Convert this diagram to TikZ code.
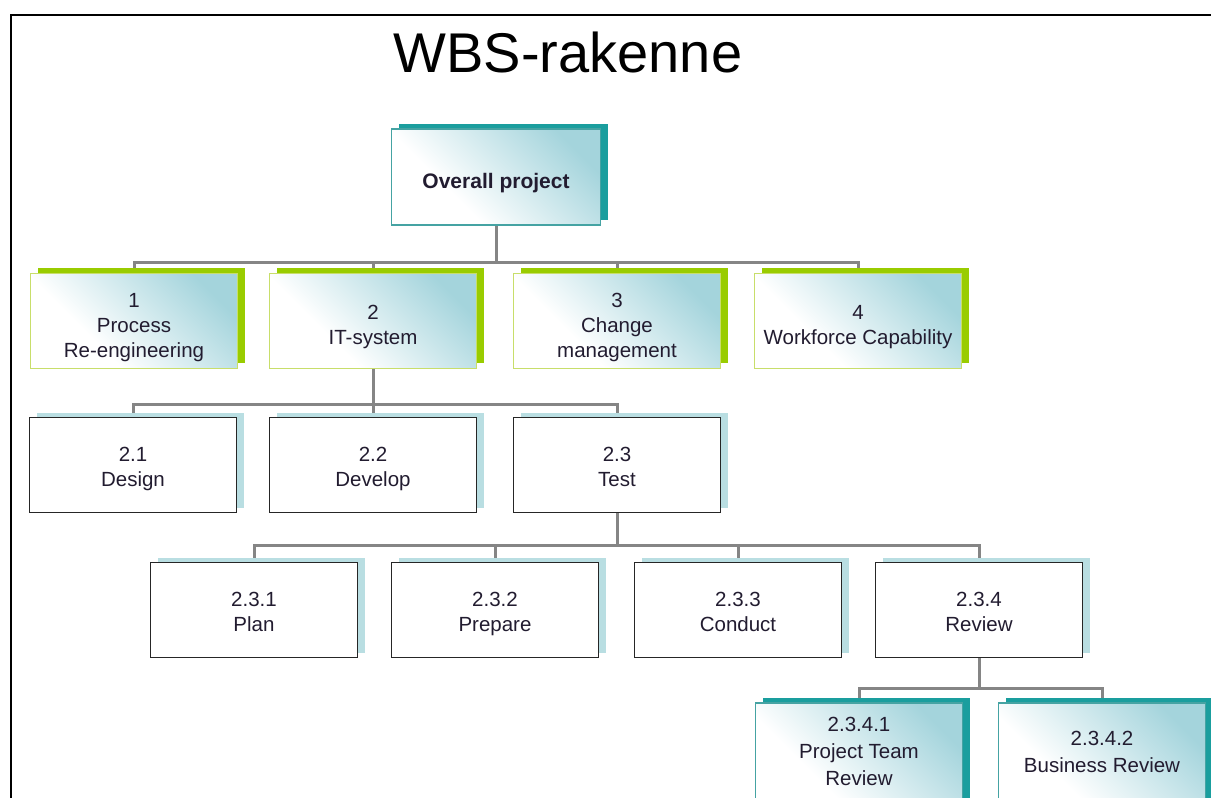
\documentclass[tikz,border=0pt]{standalone}
\usepackage{fontspec}
\setmainfont{Liberation Sans}
\usetikzlibrary{shadows,backgrounds}
\definecolor{gblue}{HTML}{A4D4DC}
\definecolor{limeshadow}{HTML}{99CC00}
\definecolor{limeborder}{HTML}{C8DE6A}
\definecolor{tealshadow}{HTML}{1A9E9E}
\definecolor{tealborder}{HTML}{45A3A3}
\definecolor{paleshadow}{HTML}{B9DEE2}
\definecolor{conn}{HTML}{858585}
\definecolor{txt}{HTML}{221C30}
\pgfdeclareverticalshading{wbsgrad}{100bp}{color(0bp)=(white); color(25bp)=(white); color(36bp)=(white); color(75bp)=(gblue); color(100bp)=(gblue)}
\newcommand\topA{\rule{0pt}{23pt}}
\newcommand\topB{\rule{0pt}{27pt}}
\newcommand\botS{\rule[-4.5pt]{0pt}{4.5pt}}
\tikzset{
  basebox/.style={minimum width=207pt, minimum height=95pt, inner sep=0pt, align=center,
    text=txt, font=\fontsize{20.5}{25}\selectfont, line width=1.2pt},
  gradbox/.style={basebox, shading=wbsgrad, shading angle=-45},
  limebox/.style={gradbox, draw=limeborder,
    general shadow={shadow xshift=7pt, shadow yshift=5.5pt, fill=limeshadow}},
  tealbox/.style={gradbox, draw=tealborder,
    general shadow={shadow xshift=7pt, shadow yshift=5pt, fill=tealshadow}},
  plainbox/.style={basebox, draw=black!85, fill=white,
    general shadow={shadow xshift=7pt, shadow yshift=5pt, fill=paleshadow}},
  link/.style={draw=conn, line width=3pt}
}
\begin{document}
\begin{tikzpicture}[x=1pt,y=-1pt]
\useasboundingbox (0,0) rectangle (1211,798);
\draw[line width=2pt, black] (11,798) -- (11,15) -- (1212,15);
\node[font=\fontsize{56}{60}\selectfont, text=black] (title) at (568,52) {WBS-rakenne};

\node[tealbox, minimum width=209pt, minimum height=96pt, font=\fontsize{21}{25}\selectfont\bfseries] (top) at (496,177) {\topB Overall project\botS};

\node[limebox] (n1) at (134,321) {\topB 1\\Process\\Re-engineering\botS};
\node[limebox] (n2) at (373,321) {\topB 2\\IT-system\botS};
\node[limebox] (n3) at (617,321) {\topB 3\\Change\\management\botS};
\node[limebox] (n4) at (858,321) {\topB 4\\Workforce Capability\botS};

\node[plainbox] (n21) at (133,465) {\topA 2.1\\Design\botS};
\node[plainbox] (n22) at (373,465) {\topA 2.2\\Develop\botS};
\node[plainbox] (n23) at (617,465) {\topA 2.3\\Test\botS};

\node[plainbox] (n231) at (254,610) {\topA 2.3.1\\Plan\botS};
\node[plainbox] (n232) at (495,610) {\topA 2.3.2\\Prepare\botS};
\node[plainbox] (n233) at (738,610) {\topA 2.3.3\\Conduct\botS};
\node[plainbox] (n234) at (979,610) {\topA 2.3.4\\Review\botS};

\node[tealbox, minimum height=110pt] (n2341) at (859,758) {};
\node[tealbox, minimum height=110pt] (n2342) at (1102,758) {};
\node[text=txt, font=\fontsize{20.5}{27}\selectfont, align=center] (l2341) at (859,751) {2.3.4.1\\Project Team\\Review};
\node[text=txt, font=\fontsize{20.5}{27}\selectfont, align=center] (l2342) at (1102,752) {2.3.4.2\\Business Review};

\coordinate (bus1) at (0,262);
\coordinate (bus2) at (0,404);
\coordinate (bus3) at (0,545);
\coordinate (bus4) at (0,688);

\begin{scope}[on background layer]
\draw[link] (top.south) -- (top.south |- bus1);
\foreach \c in {n1,n2,n3,n4} \draw[link] (top.south |- bus1) -| (\c.north);
\draw[link] (n2.south) -- (n2.south |- bus2);
\foreach \c in {n21,n22,n23} \draw[link] (n2.south |- bus2) -| (\c.north);
\draw[link] (n23.south) -- (n23.south |- bus3);
\foreach \c in {n231,n232,n233,n234} \draw[link] (n23.south |- bus3) -| (\c.north);
\draw[link] (n234.south) -- (n234.south |- bus4);
\foreach \c in {n2341,n2342} \draw[link] (n234.south |- bus4) -| (\c.north);
\end{scope}
\end{tikzpicture}
\end{document}
